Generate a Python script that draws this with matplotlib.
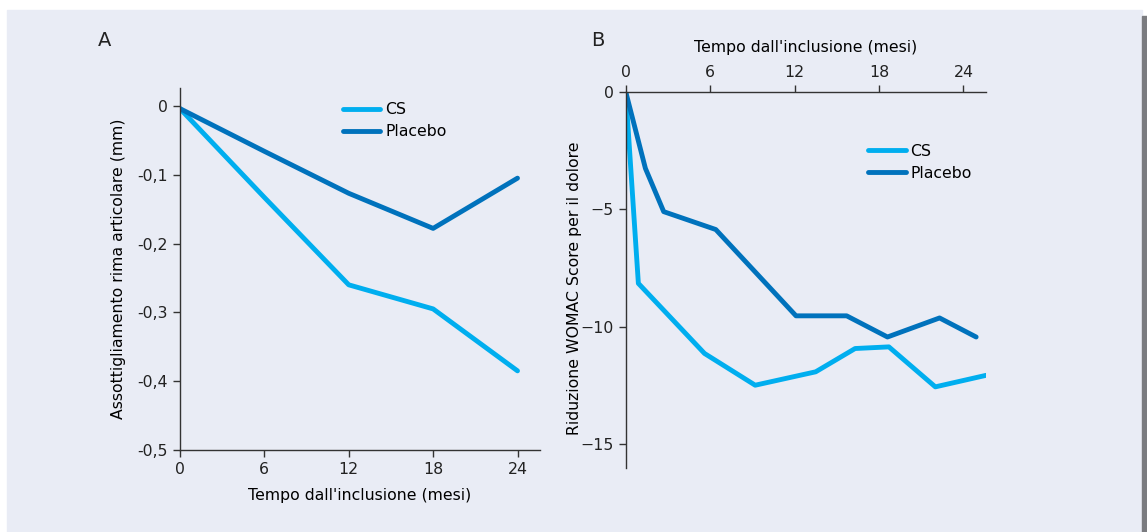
import matplotlib.pyplot as plt
from matplotlib.patches import Rectangle

# Panel A - joint space narrowing (mm)
months_a = [0, 6, 12, 18, 24]
cs_a = [-0.004, -0.133, -0.260, -0.295, -0.385]
placebo_a = [-0.004, -0.066, -0.127, -0.178, -0.105]
yticks_a = [0, -0.1, -0.2, -0.3, -0.4, -0.5]
yticklabels_a = ["0", "-0,1", "-0,2", "-0,3", "-0,4", "-0,5"]

# Panel B - WOMAC pain score reduction
months_cs_b = [0, 0.9, 5.6, 9.2, 13.5, 16.3, 18.7, 22.0, 25.6]
cs_b = [0, -8.15, -11.13, -12.48, -11.91, -10.92, -10.85, -12.55, -12.06]
months_pl_b = [0, 1.4, 2.7, 6.4, 12.1, 15.7, 18.6, 22.3, 24.9]
placebo_b = [0, -3.26, -5.1, -5.86, -9.53, -9.53, -10.43, -9.62, -10.43]
yticks_b = [0, -5, -10, -15]

xticks = [0, 6, 12, 18, 24]
xlabel = "Tempo dall'inclusione (mesi)"

CS_COLOR = "#00aeef"
PL_COLOR = "#0072bc"
BG = "#e9ecf5"
INK = "#333333"

plt.rcParams["font.family"] = "DejaVu Sans"
plt.rcParams["font.size"] = 11.3

fig = plt.figure(figsize=(11.47, 5.32), dpi=100, facecolor="white")
W, H = 1147, 532
fig.patches.append(Rectangle((7 / W, 0), (1142 - 7) / W, (532 - 10) / H,
                             transform=fig.transFigure, color=BG, zorder=-10))
fig.patches.append(Rectangle((1142 / W, 0), 5 / W, (532 - 16) / H,
                             transform=fig.transFigure, color="#7a7b7f", zorder=-10))


def style(ax):
    ax.set_facecolor("none")
    for s in ax.spines.values():
        s.set_color(INK)
        s.set_linewidth(1.0)
    ax.tick_params(colors=INK, labelcolor="#222222", length=5, width=1.0, direction="out")


# Panel A
ax1 = fig.add_axes([180 / W, 1 - 450 / H, (540 - 180) / W, (450 - 88) / H])
style(ax1)
ax1.plot(months_a, cs_a, color=CS_COLOR, lw=3.5, label="CS", solid_capstyle="round")
ax1.plot(months_a, placebo_a, color=PL_COLOR, lw=3.5, label="Placebo", solid_capstyle="round")
ax1.set_xlim(0, 25.6)
ax1.set_ylim(-0.5, 0.026)
ax1.set_xticks(xticks)
ax1.set_yticks(yticks_a)
ax1.set_yticklabels(yticklabels_a)
ax1.spines["top"].set_visible(False)
ax1.spines["right"].set_visible(False)
ax1.set_xlabel(xlabel, labelpad=8)
ax1.set_ylabel("Assottigliamento rima articolare (mm)", labelpad=8)
ax1.legend(loc="upper left", bbox_to_anchor=(0.43, 0.983), frameon=False,
           handlelength=2.4, handletextpad=0.3, labelspacing=0.45, borderpad=0)
fig.text(98 / W, 1 - 40 / H, "A", fontsize=14, va="center", color="#222222")

# Panel B
ax2 = fig.add_axes([625.7 / W, 1 - 468 / H, (986 - 625.7) / W, (468 - 91.7) / H])
style(ax2)
ax2.plot(months_cs_b, cs_b, color=CS_COLOR, lw=3.5, label="CS", solid_capstyle="round")
ax2.plot(months_pl_b, placebo_b, color=PL_COLOR, lw=3.5, label="Placebo", solid_capstyle="round")
ax2.set_xlim(0, 25.6)
ax2.set_ylim(-16, 0)
ax2.set_xticks(xticks)
ax2.set_yticks(yticks_b)
ax2.xaxis.tick_top()
ax2.xaxis.set_label_position("top")
ax2.spines["bottom"].set_visible(False)
ax2.spines["right"].set_visible(False)
ax2.set_xlabel(xlabel, labelpad=9)
ax2.set_ylabel("Riduzione WOMAC Score per il dolore")
ax2.yaxis.set_label_coords(-0.142, 0.479)
ax2.yaxis.label.set_verticalalignment("center")
ax2.legend(loc="upper left", bbox_to_anchor=(0.651, 0.883), frameon=False,
           handlelength=2.4, handletextpad=0.3, labelspacing=0.45, borderpad=0)
fig.text(591 / W, 1 - 40 / H, "B", fontsize=14, va="center", color="#222222")

fig.savefig("out.png", dpi=100, facecolor="white")
